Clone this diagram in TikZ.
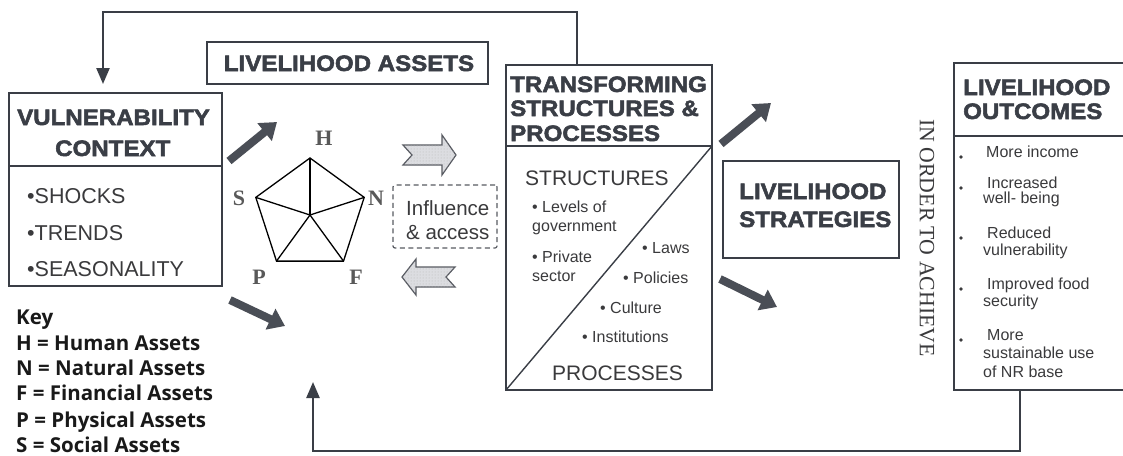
\documentclass[tikz,border=0pt]{standalone}
\usepackage{fontspec}
\setmainfont{Liberation Sans}
\newfontfamily\heavy{Liberation Sans}[BoldFeatures={FakeBold=2.4}, FakeStretch=1.08]
\newfontfamily\serifx{Liberation Serif}
\newfontfamily\keyfont{Open Sans}
\usetikzlibrary{arrows.meta,patterns,calc}
\definecolor{ink}{HTML}{3A3E46}
\definecolor{darr}{HTML}{4A4E56}
\definecolor{txt}{HTML}{3A3A3C}
\definecolor{hatchc}{HTML}{DCDDE1}
\newcommand\fsz[1]{\fontsize{#1}{#1}\selectfont}
\tikzset{
  box/.style={draw=ink, line width=1.4pt, inner sep=0pt, outer sep=0pt},
  title/.style={font=\heavy\bfseries\fsz{22.3}, text=ink, inner sep=0pt, anchor=base west},
  body/.style={font=\fsz{21.5}, text=txt, inner sep=0pt, anchor=base west},
  small/.style={font=\fsz{16}, text=txt, inner sep=0pt, anchor=base west},
  keyline/.style={font=\keyfont\bfseries\fsz{20.5}, text=black!90, inner sep=0pt, anchor=base west},
  letter/.style={font=\serifx\bfseries\fsz{22}, text=black!65, inner sep=0pt},
  feed/.style={draw=ink, line width=2.4pt, -{Triangle[length=16pt,width=13pt]}},
  fat/.style={draw=darr, line width=8pt, -{Triangle[length=16pt,width=22pt]}},
  hollow/.style={draw=ink!85, line width=1.2pt, fill=hatchc},
  dotsy/.style={pattern=dots, pattern color=gray!55},
}
\begin{document}
\begin{tikzpicture}[x=1pt,y=-1pt]
\useasboundingbox (0,0) rectangle (1123,455);
\fill[white] (0,0) rectangle (1123,455);

% ---- boxes
\node[box, minimum width=213pt, minimum height=193pt] (vul) at (115.5,189.5) {};
\draw[ink, line width=1.4pt] (vul.west |- 0,166) -- (vul.east |- 0,166);
\node[box, minimum width=281pt, minimum height=42pt] (assets) at (347.5,63) {};
\node[box, minimum width=206pt, minimum height=325pt] (trans) at (609,227.5) {};
\draw[ink, line width=1.4pt] (trans.west |- 0,146) coordinate (tdl) -- (trans.east |- 0,146) coordinate (tdr);
\draw[ink, line width=1.4pt] (tdr) -- (trans.south west);
\node[box, minimum width=176pt, minimum height=97pt] (strat) at (811,209.5) {};
\node[box, minimum width=172pt, minimum height=327pt] (outc) at (1040,226.5) {};
\draw[ink, line width=1.4pt] (outc.west |- 0,136) -- (outc.east |- 0,136);
\node[draw=ink!85, dashed, dash pattern=on 5pt off 3.5pt, line width=1.2pt, rounded corners=2pt,
      minimum width=104pt, minimum height=63pt, inner sep=0pt] (infl) at (445,216.5) {};

% ---- titles
\node[title] (vt1) at (17,125) {VULNERABILITY};
\node[title] (vt2) at (55,156) {CONTEXT};
\node[title, anchor=base] (at1) at (349,71) {LIVELIHOOD ASSETS};
\node[title] (tt1) at (510,92) {TRANSFORMING};
\node[title] (tt2) at (510,116) {STRUCTURES \&};
\node[title] (tt3) at (510,141) {PROCESSES};
\node[title] (st1) at (739,199) {LIVELIHOOD};
\node[title] (st2) at (739,227) {STRATEGIES};
\node[title] (ot1) at (963,95) {LIVELIHOOD};
\node[title] (ot2) at (963,119) {OUTCOMES};

% ---- vulnerability items
\node[body] (v1) at (27,203) {\textbullet SHOCKS};
\node[body] (v2) at (27,240) {\textbullet TRENDS};
\node[body] (v3) at (27,276) {\textbullet SEASONALITY};

% ---- transforming items
\node[font=\fsz{21}, text=txt, inner sep=0pt, anchor=base west] (str) at (525,185) {STRUCTURES};
\node[font=\fsz{21}, text=txt, inner sep=0pt, anchor=base west] (pro) at (552,380) {PROCESSES};
\node[small] (i1) at (532,212) {\textbullet{} Levels of};
\node[small] (i2) at (532,231) {government};
\node[small] (i3) at (532,262) {\textbullet{} Private};
\node[small] (i4) at (532,281) {sector};
\node[small] (i5) at (642,253) {\textbullet{} Laws};
\node[small] (i6) at (623,283) {\textbullet{} Policies};
\node[small] (i7) at (600,313) {\textbullet{} Culture};
\node[small] (i8) at (582,342) {\textbullet{} Institutions};

% ---- influence
\node[font=\fsz{20.5}, text=txt, inner sep=0pt, anchor=base west] (inf1) at (406,215) {Influence};
\node[font=\fsz{20.5}, text=txt, inner sep=0pt, anchor=base west] (inf2) at (406,239) {\& access};

% ---- outcomes items
\foreach \n/\y in {b1/157, b2/188, b3/238, b4/289, b5/340}
  \fill[txt] (961,\y) circle (1.8pt);
\node[small] (o1) at (986,157) {More income};
\node[small] (o2) at (987,188) {Increased};
\node[small] (o3) at (983,203) {well- being};
\node[small] (o4) at (987,238) {Reduced};
\node[small] (o5) at (983,255) {vulnerability};
\node[small] (o6) at (987,289) {Improved food};
\node[small] (o7) at (983,306) {security};
\node[small] (o8) at (987,340) {More};
\node[small] (o9) at (983,358) {sustainable use};
\node[small] (o10) at (983,377) {of NR base};

% ---- in order to achieve
\node[font=\serifx\fsz{21.8}, text=txt, inner sep=0pt, rotate=-90] (ach) at (927,238) {IN ORDER TO ACHIEVE};

% ---- key
\node[keyline] (k0) at (16,324) {Key};
\node[keyline] (k1) at (16,350) {H = Human Assets};
\node[keyline] (k2) at (16,375) {N = Natural Assets};
\node[keyline] (k3) at (16,400) {F = Financial Assets};
\node[keyline] (k4) at (16,427) {P = Physical Assets};
\node[keyline] (k5) at (16,452) {S = Social Assets};

% ---- pentagon
\coordinate (pc) at (310,215);
\coordinate (pH) at ($(pc)+(-90:57)$);
\coordinate (pN) at ($(pc)+(-18:57)$);
\coordinate (pF) at ($(pc)+(54:57)$);
\coordinate (pP) at ($(pc)+(126:57)$);
\coordinate (pS) at ($(pc)+(198:57)$);
\draw[black, line width=1.3pt, line join=miter] (pH) -- (pN) -- (pF) -- (pP) -- (pS) -- cycle;
\foreach \v in {pH,pN,pF,pP,pS} \draw[black, line width=1.3pt] (pc) -- (\v);
\node[letter] (lH) at (324,138) {H};
\node[letter] (lS) at (239,198) {S};
\node[letter] (lN) at (376,198) {N};
\node[letter] (lP) at (259,277) {P};
\node[letter] (lF) at (356,277) {F};

% ---- hatched arrows
\def\rarrow{(403,145) -- (412,155) -- (403,165) -- (442,165) -- (442,175) -- (456,155) -- (442,135) -- (442,145) -- cycle}
\def\larrow{(402,277) -- (416,259) -- (416,267) -- (455,267) -- (446,277) -- (455,287) -- (416,287) -- (416,295) -- cycle}
\draw[hollow] \rarrow;
\path[dotsy] \rarrow;
\draw[hollow] \larrow;
\path[dotsy] \larrow;

% ---- dark arrows
\coordinate (d1s) at (229,161); \coordinate (d1e) at (277,122);
\coordinate (d2s) at (230,300); \coordinate (d2e) at (285,326);
\coordinate (d3s) at (721,144); \coordinate (d3e) at (771,103);
\coordinate (d4s) at (720,279); \coordinate (d4e) at (777,307);
\draw[fat] (d1s) -- (d1e);
\draw[fat] (d2s) -- (d2e);
\draw[fat] (d3s) -- (d3e);
\draw[fat] (d4s) -- (d4e);

% ---- feedback loops
\coordinate (fa) at (577,65);
\coordinate (fb) at (577,12);
\coordinate (fc) at (103,84);
\draw[feed] (fa) -- (fb) -| (fc);
\coordinate (ga) at (1020,390);
\coordinate (gb) at (1020,451);
\coordinate (gc) at (313,382);
\draw[feed] (ga) -- (gb) -| (gc);
\end{tikzpicture}
\end{document}
